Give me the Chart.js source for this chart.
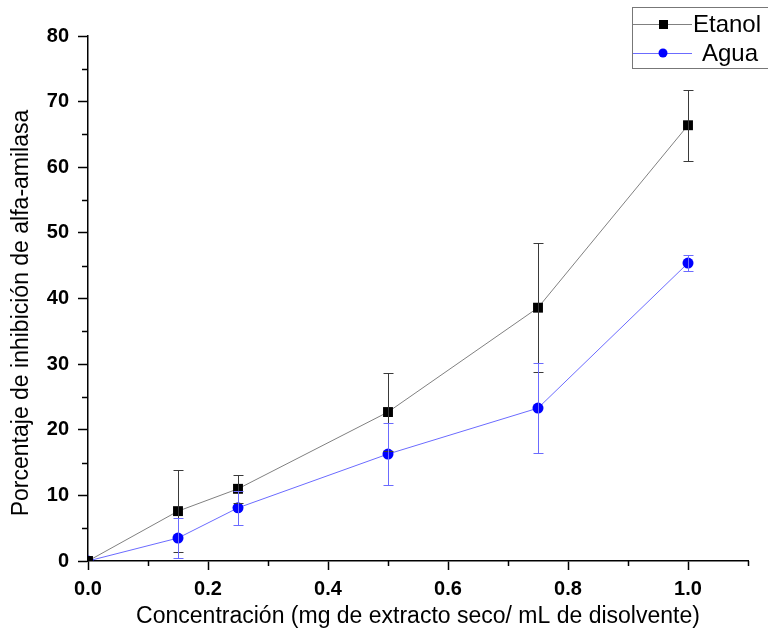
<!DOCTYPE html>
<html>
<head>
<meta charset="utf-8">
<script src="https://cdn.jsdelivr.net/npm/chart.js@4.4.1/dist/chart.umd.min.js"></script>
<style>
  html, body { margin: 0; padding: 0; background: #fff; }
  #wrap { width: 768px; height: 635px; }
</style>
</head>
<body>
<div id="wrap"><canvas id="myChart" width="768" height="635"></canvas></div>
<script>
// data
const concentrations = [0, 0.15, 0.25, 0.5, 0.75, 1.0];
const etanol = [0, 7.6, 11.0, 22.7, 38.6, 66.4];
const etanolErr = [0, 6.3, 2.1, 5.9, 9.8, 5.4];
const agua = [0, 3.5, 8.1, 16.3, 23.3, 45.4];
const aguaErr = [0, 3.0, 2.6, 4.7, 6.9, 1.2];
const seriesNames = ["Etanol", "Agua"];

const FONT = "'Liberation Sans', Arial, sans-serif";

function toPoints(ys) {
	return concentrations.map((x, i) => ({ x: x, y: ys[i] }));
}

// error bars
const errorBars = {
	id: "errorBars",
	afterDatasetsDraw(chart) {
		const c = chart.ctx;
		const yScale = chart.scales.y;
		const errs = [etanolErr, aguaErr];
		const colors = ["#3a3a3a", "#6b6bff"];
		c.save();
		chart.data.datasets.forEach((ds, d) => {
			const meta = chart.getDatasetMeta(d);
			c.strokeStyle = colors[d];
			c.lineWidth = 1;
			meta.data.forEach((pt, i) => {
				const e = errs[d][i];
				if (!e) return;
				const v = ds.data[i].y;
				const x = Math.round(pt.x) + 0.5;
				const yTop = Math.round(yScale.getPixelForValue(v + e)) + 0.5;
				const yBot = Math.round(yScale.getPixelForValue(v - e)) + 0.5;
				c.beginPath();
				c.moveTo(x, yTop);
				c.lineTo(x, yBot);
				c.moveTo(x - 5, yTop);
				c.lineTo(x + 5, yTop);
				c.moveTo(x - 5, yBot);
				c.lineTo(x + 5, yBot);
				c.stroke();
			});
		});
		c.restore();
	},
};

// minor ticks, titles and the boxed legend
const decorations = {
	id: "decorations",
	afterDraw(chart) {
		const c = chart.ctx;
		const xs = chart.scales.x;
		const ys = chart.scales.y;
		const area = chart.chartArea;
		c.save();
		c.strokeStyle = "#000";
		c.lineWidth = 1.5;
		c.beginPath();
		for (let v = 5; v < 80; v += 10) {
			const y = Math.round(ys.getPixelForValue(v)) + 0.5;
			c.moveTo(area.left, y);
			c.lineTo(area.left - 6, y);
		}
		for (let k = 1; k <= 11; k += 2) {
			const x = Math.round(xs.getPixelForValue(k / 10)) + 0.5;
			c.moveTo(x, area.bottom);
			c.lineTo(x, area.bottom + 5);
		}
		c.stroke();

		// axis titles
		c.fillStyle = "#000";
		c.font = "23px " + FONT;
		c.textAlign = "center";
		c.textBaseline = "middle";
		c.fillText("Concentración (mg de extracto seco/ mL de disolvente)", (area.left + area.right) / 2, 617);
		c.save();
		c.translate(22, 313);
		c.rotate(-Math.PI / 2);
		c.fillText("Porcentaje de inhibición de alfa-amilasa", 0, 0);
		c.restore();

		// legend
		c.strokeStyle = "#777";
		c.lineWidth = 1;
		c.strokeRect(632.5, 7.5, 160, 61);
		const rows = [
			{ y: 24, line: "#808080", fill: "#000", shape: "rect", tx: 693 },
			{ y: 53, line: "#6b6bff", fill: "#0000ff", shape: "circle", tx: 702 },
		];
		rows.forEach((r, i) => {
			c.strokeStyle = r.line;
			c.beginPath();
			c.moveTo(633, r.y + 0.5);
			c.lineTo(692, r.y + 0.5);
			c.stroke();
			c.fillStyle = r.fill;
			if (r.shape === "rect") {
				c.fillRect(659, r.y - 4, 9, 9);
			} else {
				c.beginPath();
				c.arc(663, r.y, 4.5, 0, Math.PI * 2);
				c.fill();
			}
			c.fillStyle = "#000";
			c.font = "24px " + FONT;
			c.textAlign = "left";
			c.fillText(seriesNames[i], r.tx, r.y + 1);
		});
		c.restore();
	},
};

const ctx = document.getElementById("myChart");
const myChart = new Chart(ctx, {
	type: "line",
	data: {
		datasets: [
			{
				label: seriesNames[0],
				data: toPoints(etanol),
				borderColor: "#808080",
				borderWidth: 1,
				pointStyle: "rect",
				pointRadius: 7,
				pointBackgroundColor: "#000",
				pointBorderColor: "#000",
				pointBorderWidth: 0,
				tension: 0,
				clip: 0,
			},
			{
				label: seriesNames[1],
				data: toPoints(agua),
				borderColor: "#6b6bff",
				borderWidth: 1,
				pointStyle: "circle",
				pointRadius: 5.5,
				pointBackgroundColor: "#0000ff",
				pointBorderColor: "#0000ff",
				pointBorderWidth: 0,
				tension: 0,
				clip: 0,
			},
		],
	},
	options: {
		responsive: false,
		animation: false,
		events: [],
		layout: { padding: { top: 36, right: 20, left: 0, bottom: 0 } },
		plugins: {
			legend: { display: false },
			tooltip: { enabled: false },
		},
		scales: {
			x: {
				type: "linear",
				min: 0,
				max: 1.1,
				afterBuildTicks: (s) => {
					s.ticks = s.ticks.filter((t) => Math.abs(Math.round(t.value * 5) - t.value * 5) < 1e-6);
				},
				afterFit: (s) => {
					s.height = 74;
				},
				ticks: {
					stepSize: 0.2,
					padding: 7,
					color: "#000",
					font: { family: FONT, size: 20, weight: "bold" },
					callback: (v) => v.toFixed(1),
				},
				grid: { drawOnChartArea: false, tickLength: 9, tickWidth: 1.5, color: "#000" },
				border: { color: "#000", width: 1.5 },
			},
			y: {
				min: 0,
				max: 80,
				afterFit: (s) => {
					s.width = 88;
				},
				ticks: {
					stepSize: 10,
					padding: 9,
					color: "#000",
					font: { family: FONT, size: 20, weight: "bold" },
				},
				grid: { drawOnChartArea: false, tickLength: 10, tickWidth: 1.5, color: "#000" },
				border: { color: "#000", width: 1.5 },
			},
		},
	},
	plugins: [errorBars, decorations],
});
</script>
</body>
</html>
